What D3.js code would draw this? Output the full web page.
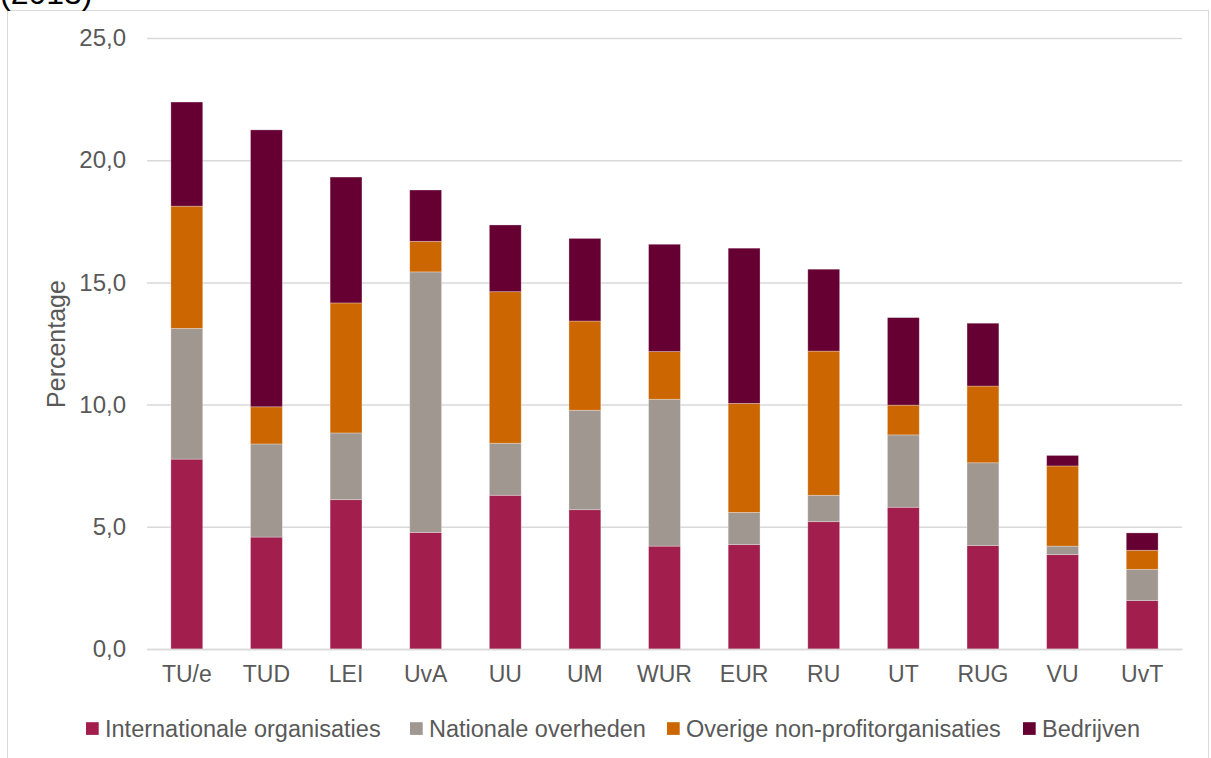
<!DOCTYPE html>
<html><head><meta charset="utf-8">
<script src="https://cdn.jsdelivr.net/npm/d3@7"></script>
<style>body{margin:0;background:#fff}svg{display:block;font-family:"Liberation Sans",Arial,sans-serif}</style>
</head><body><svg id="c" width="1211" height="758"></svg>
<script>
const categories = ["TU/e","TUD","LEI","UvA","UU","UM","WUR","EUR","RU","UT","RUG","VU","UvT"];
const seriesNames = ["Internationale organisaties","Nationale overheden","Overige non-profitorganisaties","Bedrijven"];
const internationale = [7.77,4.58,6.11,4.77,6.29,5.70,4.21,4.27,5.21,5.80,4.23,3.86,1.98];
const nationale      = [5.35,3.81,2.73,10.66,2.13,4.07,6.01,1.32,1.08,2.96,3.39,0.35,1.28];
const overige        = [5.00,1.52,5.32,1.25,6.20,3.65,1.95,4.46,5.90,1.22,3.14,3.28,0.78];
const bedrijven      = [4.26,11.33,5.15,2.10,2.73,3.38,4.39,6.35,3.35,3.58,2.57,0.43,0.71];
const yTicks = [0,5,10,15,20,25];
const colors = ["#A21E4D","#A09791","#CC6600","#660033"];

const svg = d3.select("#c");
const seriesArrays = [internationale, nationale, overige, bedrijven];
const table = categories.map((c,i)=>{const o={cat:c}; seriesNames.forEach((s,j)=>o[s]=seriesArrays[j][i]); return o;});
const stack = d3.stack().keys(seriesNames)(table);

const x = d3.scaleBand().domain(categories).range([147,1182]).paddingInner(0.6).paddingOuter(0.3);
const y = d3.scaleLinear().domain([0,25]).range([649,38]);

// frame
svg.append("rect").attr("x",7.5).attr("y",10.5).attr("width",1201).attr("height",800)
  .attr("fill","none").attr("stroke","#D9D9D9").attr("stroke-width",1);

// partial title
svg.append("text").attr("x",0).attr("y",4).attr("font-size",32).attr("fill","#000").text("(2013)");

// grid
const yAxis = d3.axisLeft(y).tickValues(yTicks).tickSize(-(1182-147)).tickPadding(21)
  .tickFormat(d=>d3.format(".1f")(d).replace(".",","));
const gy = svg.append("g").attr("transform","translate(147,0)").call(yAxis);
gy.select(".domain").remove();
gy.selectAll(".tick line").attr("stroke","#D9D9D9").attr("stroke-width",1.5);
gy.selectAll(".tick text").attr("fill","#595959").attr("font-size",24).attr("font-family","Liberation Sans, Arial, sans-serif");

// bars
svg.append("g").selectAll("g").data(stack).join("g").attr("fill",(d,i)=>colors[i])
  .selectAll("rect").data(d=>d).join("rect")
  .attr("x",d=>x(d.data.cat)).attr("width",x.bandwidth())
  .attr("y",d=>y(d[1])).attr("height",d=>y(d[0])-y(d[1]))
  .attr("stroke","#fff").attr("stroke-opacity",0.35).attr("stroke-width",0.8);

// x axis
const xAxis = d3.axisBottom(x).tickSize(0).tickPadding(17);
const gx = svg.append("g").attr("transform","translate(0,649)").call(xAxis);
gx.select(".domain").attr("stroke","#D9D9D9").attr("stroke-width",1.5);
gx.selectAll(".tick text").attr("fill","#595959").attr("font-size",23).attr("font-family","Liberation Sans, Arial, sans-serif");

// y title
svg.append("text").attr("transform","translate(65,344) rotate(-90)").attr("text-anchor","middle")
  .attr("fill","#595959").attr("font-size",25).text("Percentage");

// legend
const legendX = [86,410,667,1023];
const lg = svg.append("g").selectAll("g").data(seriesNames).join("g")
  .attr("transform",(d,i)=>`translate(${legendX[i]},728.5)`);
lg.append("rect").attr("x",0).attr("y",-6.3).attr("width",12.7).attr("height",12.7).attr("fill",(d,i)=>colors[i]);
lg.append("text").attr("x",19).attr("y",8).attr("fill","#595959").attr("font-size",23.5).text(d=>d);
</script></body></html>
